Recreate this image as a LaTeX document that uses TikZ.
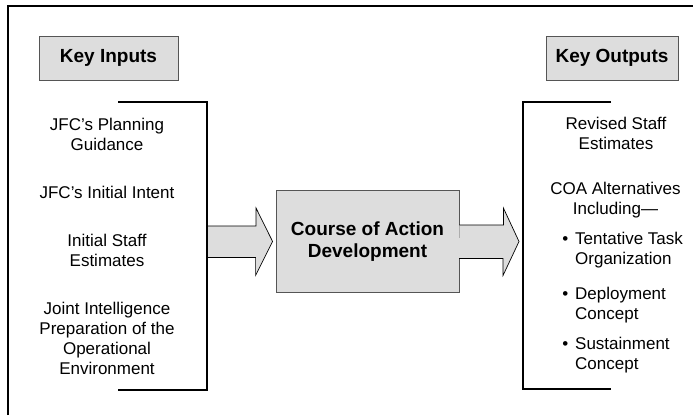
\documentclass[tikz,border=0pt]{standalone}
\usepackage{fontspec}
\setmainfont{Liberation Sans}
\usepackage{tikz}

\definecolor{boxgray}{RGB}{221,221,221}
\definecolor{edgegray}{RGB}{85,85,85}

\tikzset{
  keybox/.style={draw=edgegray, fill=boxgray, line width=0.8pt, minimum height=44pt,
    font=\fontsize{19}{22}\selectfont\bfseries},
  itemtext/.style={inner sep=0pt, align=center, font=\fontsize{17}{20}\selectfont},
  bullettext/.style={inner sep=0pt, align=left, anchor=west, font=\fontsize{17}{20}\selectfont},
  bracketline/.style={line width=1.6pt},
  blockarrow/.style={fill=boxgray, draw=black, line width=0.7pt, line join=miter}
}
\newcommand{\bul}{\llap{\textbullet\hspace{7pt}}}

\begin{document}
\begin{tikzpicture}[x=1pt, y=-1pt]
  \useasboundingbox (0,0) rectangle (693,415);
  % frame
  \draw[line width=1.2pt] (8,415) -- (8,6) -- (693,6);
  % headings
  \node[keybox, minimum width=139pt] (kin) at (108.5,58) {Key Inputs};
  \node[keybox, minimum width=132pt] (kout) at (612,58) {Key Outputs};
  % inputs
  \node[itemtext] (guid) at (107,134) {JFC’s Planning\\Guidance};
  \node[itemtext] (intent) at (107,192) {JFC’s Initial Intent};
  \node[itemtext] (staff) at (107,250) {Initial Staff\\Estimates};
  \node[itemtext] (jipoe) at (107,338) {Joint Intelligence\\Preparation of the\\Operational\\Environment};
  \draw[bracketline] (118,102) -- (207,102) -- (207,390) -- (118,390);
  \coordinate (inbar) at (207,242);
  % outputs
  \node[itemtext] (revised) at (616,133) {Revised Staff\\Estimates};
  \node[itemtext] (coaalt) at (615.5,200) {COA Alternatives\\Including—};
  \node[bullettext] (task) at (575,250) {\bul Tentative Task\\Organization};
  \node[bullettext] (deploy) at (575,305) {\bul Deployment\\Concept};
  \node[bullettext] (sustain) at (575,355) {\bul Sustainment\\Concept};
  \draw[bracketline] (611,102) -- (523,102) -- (523,389) -- (611,389);
  % process
  \node[draw=edgegray, fill=boxgray, line width=0.8pt, minimum width=183pt, minimum height=102pt,
    align=center, font=\fontsize{19}{22}\selectfont\bfseries] (coa) at (367.5,241.5)
    {Course of Action\\Development};
  \coordinate (ltip) at ([xshift=-3pt]coa.west);
  \coordinate (rtip) at (519,241.5);
  % arrows
  \filldraw[blockarrow] (inbar) ++(0,-16) -- ++(49,0) -- ++(0,-18) -- (ltip)
    -- ++(-17,34) -- ++(0,-18) -- ++(-49,0);
  \filldraw[blockarrow] (coa.east) ++(0,-16.5) -- ++(44,0) -- ++(0,-17) -- (rtip)
    -- ++(-16,34) -- ++(0,-17) -- ++(-44,0);
  \draw[bracketline] (207,102) -- (207,390);
\end{tikzpicture}
\end{document}
